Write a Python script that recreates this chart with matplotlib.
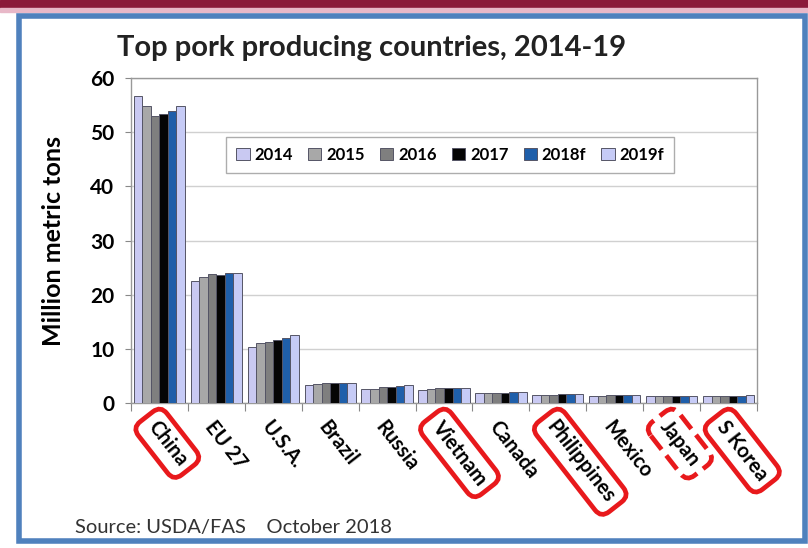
import matplotlib.pyplot as plt
import matplotlib.patches as mpatches
import numpy as np

plt.rcParams['font.family'] = ['Lato', 'DejaVu Sans']

countries = ["China", "EU 27", "U.S.A.", "Brazil", "Russia", "Vietnam",
             "Canada", "Philippines", "Mexico", "Japan", "S Korea"]
years = ["2014", "2015", "2016", "2017", "2018f", "2019f"]

y2014 = [56.7, 22.5, 10.4, 3.4, 2.6, 2.4, 1.8, 1.4, 1.3, 1.3, 1.2]
y2015 = [54.9, 23.3, 11.1, 3.5, 2.6, 2.5, 1.9, 1.5, 1.3, 1.3, 1.2]
y2016 = [52.9, 23.9, 11.3, 3.7, 2.9, 2.7, 1.9, 1.5, 1.4, 1.3, 1.3]
y2017 = [53.4, 23.6, 11.6, 3.7, 3.0, 2.7, 1.9, 1.6, 1.4, 1.3, 1.3]
y2018 = [54.0, 24.0, 12.0, 3.7, 3.2, 2.8, 2.0, 1.6, 1.5, 1.3, 1.3]
y2019 = [54.9, 24.0, 12.6, 3.7, 3.3, 2.8, 2.0, 1.6, 1.5, 1.3, 1.4]
series = [y2014, y2015, y2016, y2017, y2018, y2019]
colors = ["#c9c9f2", "#a8a8a8", "#7f7f7f", "#050505", "#1f5faa", "#c6cbf6"]

# labels that have a red box on the slide (Japan's is dashed)
boxed = {"China": "-", "Vietnam": "-", "Philippines": "-", "Japan": "--", "S Korea": "-"}

fig = plt.figure(figsize=(8.08, 5.48), dpi=100)

# slide decorations: dark red stripe at top, blue frame
fig.patches.append(mpatches.Rectangle((0, 0.986), 1, 0.014, transform=fig.transFigure,
                                      color="#8b1a3a", zorder=0))
fig.patches.append(mpatches.Rectangle((0, 0.978), 1, 0.008, transform=fig.transFigure,
                                      color="#e8b8c8", zorder=0))
fig.patches.append(mpatches.Rectangle((0.024, 0.012), 0.972, 0.958, transform=fig.transFigure,
                                      fill=False, edgecolor="#4f81bd", linewidth=4, zorder=0))

ax = fig.add_axes([0.162, 0.2646, 0.775, 0.593])

x = np.arange(len(countries))
n = len(series)
w = 0.9 / n
for i, (vals, c, yr) in enumerate(zip(series, colors, years)):
    ax.bar(x - 0.45 + w * (i + 0.5), vals, w, color=c, edgecolor="#555566",
           linewidth=0.7, label=yr, zorder=3)

ax.set_xlim(-0.5, len(countries) - 0.5)
ax.set_ylim(0, 60)
ax.set_yticks(range(0, 61, 10))
ax.yaxis.grid(True, color="#d0d0d0", linewidth=1, zorder=0)
ax.tick_params(axis='y', labelsize=15, length=4, color="#888888", pad=8)
for t in ax.get_yticklabels():
    t.set_fontweight('bold')

# ticks at category boundaries, labels at centres
ax.set_xticks(np.arange(-0.5, len(countries)), minor=False)
ax.set_xticklabels([])
ax.tick_params(axis='x', length=6, color="#888888")
ax.set_xticks(x, minor=True)
ax.set_xticklabels(countries, minor=True, rotation=-52, ha='left', va='top',
                   rotation_mode='anchor', fontsize=14.5, fontweight='bold')
ax.tick_params(axis='x', which='minor', length=0, pad=10)
for t in ax.get_xticklabels(minor=True):
    s = t.get_text()
    if s in boxed:
        t.set_bbox(dict(boxstyle="round,pad=0.4,rounding_size=0.5", facecolor="none",
                        edgecolor="#e8191c", linewidth=3.4, linestyle=boxed[s]))

for sp in ax.spines.values():
    sp.set_color("#999999")
    sp.set_linewidth(1)

ax.set_ylabel("Million metric tons", fontsize=18, fontweight='bold', labelpad=18)

leg = ax.legend(ncol=6, loc='upper center', bbox_to_anchor=(0.51, 0.845), fontsize=12,
                frameon=True, fancybox=False, handlelength=0.8, handleheight=0.8,
                columnspacing=0.9, handletextpad=0.3, borderpad=0.6)
leg.get_frame().set_edgecolor("#999999")
leg.get_frame().set_linewidth(1)
for t in leg.get_texts():
    t.set_fontweight('bold')

fig.text(0.46, 0.912, "Top pork producing countries, 2014-19", ha='center', va='center',
         fontsize=21, fontweight='bold', color="#222222")
fig.text(0.093, 0.038, "Source: USDA/FAS    October 2018", ha='left', va='center',
         fontsize=14.5, color="#333333")

fig.savefig("out.png", dpi=100)
